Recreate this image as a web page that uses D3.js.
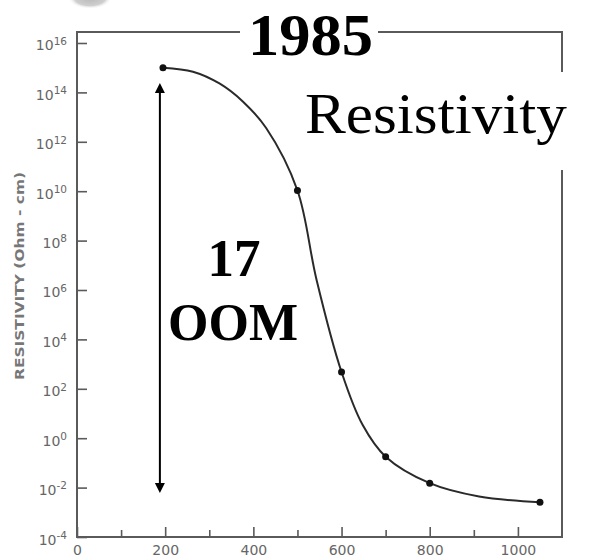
<!DOCTYPE html>
<html>
<head>
<meta charset="utf-8">
<script src="https://cdn.jsdelivr.net/npm/d3@7"></script>
<style>
  html, body { margin: 0; padding: 0; background: #fff; }
  svg { display: block; }
</style>
</head>
<body>
<svg id="chart" width="590" height="560"></svg>
<script>
// ---- data ----
const measuredTemp = [195, 500, 600, 700, 800, 1050];
const measuredResistivity = [1e15, 1.07e10, 4.8e2, 0.178, 0.0151, 0.00257];

const curveTemp = [195, 263, 323, 376, 429, 500, 543, 600, 648, 700, 800, 912, 1050];
const curveResistivity = [1e15, 6.9e14, 2.3e14, 4.3e13, 3.6e12, 1.07e10, 2.75e6, 4.8e2, 3.4, 0.178, 0.0151, 0.00437, 0.00257];

const xTickValues = [0, 200, 400, 600, 800, 1000];
const xMinorTicks = [100, 300, 500, 700, 900];
const yTickExponents = [16, 14, 12, 10, 8, 6, 4, 2, 0, -2, -4];

const arrowTemp = 188;
const arrowRange = [Math.pow(10, 14.38), Math.pow(10, -2.22)];

const yearLabel = "1985";
const titleLabel = "Resistivity";
const oomLines = ["17", "OOM"];
const yAxisTitle = "RESISTIVITY (Ohm - cm)";

// ---- layout ----
(function () {
const svg = d3.select("#chart");
const mLeft = 77, mRight = 562, mTop = 32, mBottom = 537;

const x = d3.scaleLinear().domain([0, 1100]).range([mLeft, mRight]);
const y = d3.scaleLog().domain([1e-4, Math.pow(10, 16.445)]).range([mBottom, mTop]);

const axisColor = "#5a5a5a";
const labelColor = "#666";

// gray blob at top-left (scan artefact)
const defs = svg.append("defs");
const rg = defs.append("radialGradient").attr("id", "blob");
rg.append("stop").attr("offset", "0%").attr("stop-color", "#b8b8b8");
rg.append("stop").attr("offset", "70%").attr("stop-color", "#cfcfcf");
rg.append("stop").attr("offset", "100%").attr("stop-color", "#fff").attr("stop-opacity", 0);
svg.append("ellipse").attr("cx", 90).attr("cy", -2).attr("rx", 22).attr("ry", 11).attr("fill", "url(#blob)");

// frame
svg.append("rect")
  .attr("x", mLeft).attr("y", mTop)
  .attr("width", mRight - mLeft).attr("height", mBottom - mTop)
  .attr("fill", "none").attr("stroke", axisColor).attr("stroke-width", 2);

// y axis
const yAxis = d3.axisLeft(y)
  .tickValues(yTickExponents.map(e => Math.pow(10, e)))
  .tickSize(-10).tickPadding(10)
  .tickFormat(() => "");
const yg = svg.append("g").attr("transform", `translate(${mLeft},0)`).call(yAxis);
yg.select(".domain").remove();
yg.selectAll(".tick line").attr("stroke", axisColor).attr("stroke-width", 1.6);
yg.selectAll(".tick text").each(function(d, i) {
  const t = d3.select(this);
  const e = yTickExponents[i];
  t.attr("fill", labelColor).attr("font-family", "DejaVu Sans, sans-serif")
   .attr("font-size", 14).attr("dy", "0.5em").text(null);
  t.append("tspan").text("10");
  t.append("tspan").attr("dy", "-0.55em").attr("font-size", 10.5).text(e < 0 ? "-" + (-e) : String(e));
});

// x axis
const xAxis = d3.axisBottom(x)
  .tickValues(xTickValues)
  .tickSize(-10).tickPadding(8)
  .tickFormat(d3.format("d"));
const xg = svg.append("g").attr("transform", `translate(0,${mBottom})`).call(xAxis);
xg.select(".domain").remove();
xg.selectAll(".tick line").attr("stroke", axisColor).attr("stroke-width", 1.6);
xg.selectAll(".tick text").attr("fill", labelColor).attr("font-family", "DejaVu Sans, sans-serif").attr("font-size", 14);

const xMinor = d3.axisBottom(x).tickValues(xMinorTicks).tickSize(-7).tickFormat("");
const xmg = svg.append("g").attr("transform", `translate(0,${mBottom})`).call(xMinor);
xmg.select(".domain").remove();
xmg.selectAll(".tick line").attr("stroke", axisColor).attr("stroke-width", 1.6);

// y axis title
svg.append("text")
  .attr("transform", `translate(24,${(172 + 380) / 2}) rotate(-90)`)
  .attr("text-anchor", "middle")
  .attr("font-family", "DejaVu Sans, sans-serif")
  .attr("font-weight", "bold")
  .attr("font-size", 12)
  .attr("fill", "#777")
  .attr("textLength", 208)
  .attr("lengthAdjust", "spacingAndGlyphs")
  .text(yAxisTitle);

// curve
const curveData = curveTemp.map((t, i) => [t, curveResistivity[i]]);
svg.append("path")
  .datum(curveData)
  .attr("fill", "none")
  .attr("stroke", "#2a2a2a")
  .attr("stroke-width", 2)
  .attr("d", d3.line().x(d => x(d[0])).y(d => y(d[1])).curve(d3.curveCatmullRom.alpha(0.5)));

// points
svg.selectAll("circle.pt")
  .data(measuredTemp.map((t, i) => [t, measuredResistivity[i]]))
  .join("circle")
  .attr("class", "pt")
  .attr("cx", d => x(d[0])).attr("cy", d => y(d[1]))
  .attr("r", 3.5).attr("fill", "#111");

// double arrow
const ax = x(arrowTemp);
const yTop = y(arrowRange[0]), yBot = y(arrowRange[1]);
svg.append("line")
  .attr("x1", ax).attr("x2", ax).attr("y1", yTop + 8).attr("y2", yBot - 8)
  .attr("stroke", "#000").attr("stroke-width", 2);
svg.append("path")
  .attr("d", `M${ax},${yTop} L${ax - 5},${yTop + 10} L${ax + 5},${yTop + 10} Z`)
  .attr("fill", "#000");
svg.append("path")
  .attr("d", `M${ax},${yBot} L${ax - 5},${yBot - 10} L${ax + 5},${yBot - 10} Z`)
  .attr("fill", "#000");

// white boxes behind overlay labels
svg.append("rect").attr("x", 240).attr("y", 8).attr("width", 138).attr("height", 52).attr("fill", "#fff");
svg.append("rect").attr("x", 300).attr("y", 72).attr("width", 290).attr("height", 98).attr("fill", "#fff");

// overlay labels
svg.append("text")
  .attr("x", 248).attr("y", 55)
  .attr("font-family", "Liberation Serif, Times New Roman, serif")
  .attr("font-weight", "bold").attr("font-size", 59)
  .attr("textLength", 125).attr("lengthAdjust", "spacingAndGlyphs")
  .attr("fill", "#000")
  .text(yearLabel);

svg.append("text")
  .attr("x", 305).attr("y", 133)
  .attr("font-family", "Liberation Serif, Times New Roman, serif")
  .attr("font-size", 57)
  .attr("textLength", 262).attr("lengthAdjust", "spacingAndGlyphs")
  .attr("fill", "#000")
  .text(titleLabel);

svg.append("text")
  .attr("x", 234).attr("y", 276)
  .attr("text-anchor", "middle")
  .attr("font-family", "Liberation Serif, Times New Roman, serif")
  .attr("font-weight", "bold").attr("font-size", 53)
  .attr("fill", "#000")
  .text(oomLines[0]);

svg.append("text")
  .attr("x", 233).attr("y", 340)
  .attr("text-anchor", "middle")
  .attr("font-family", "Liberation Serif, Times New Roman, serif")
  .attr("font-weight", "bold").attr("font-size", 52)
  .attr("fill", "#000")
  .text(oomLines[1]);
})();
</script>
</body>
</html>
